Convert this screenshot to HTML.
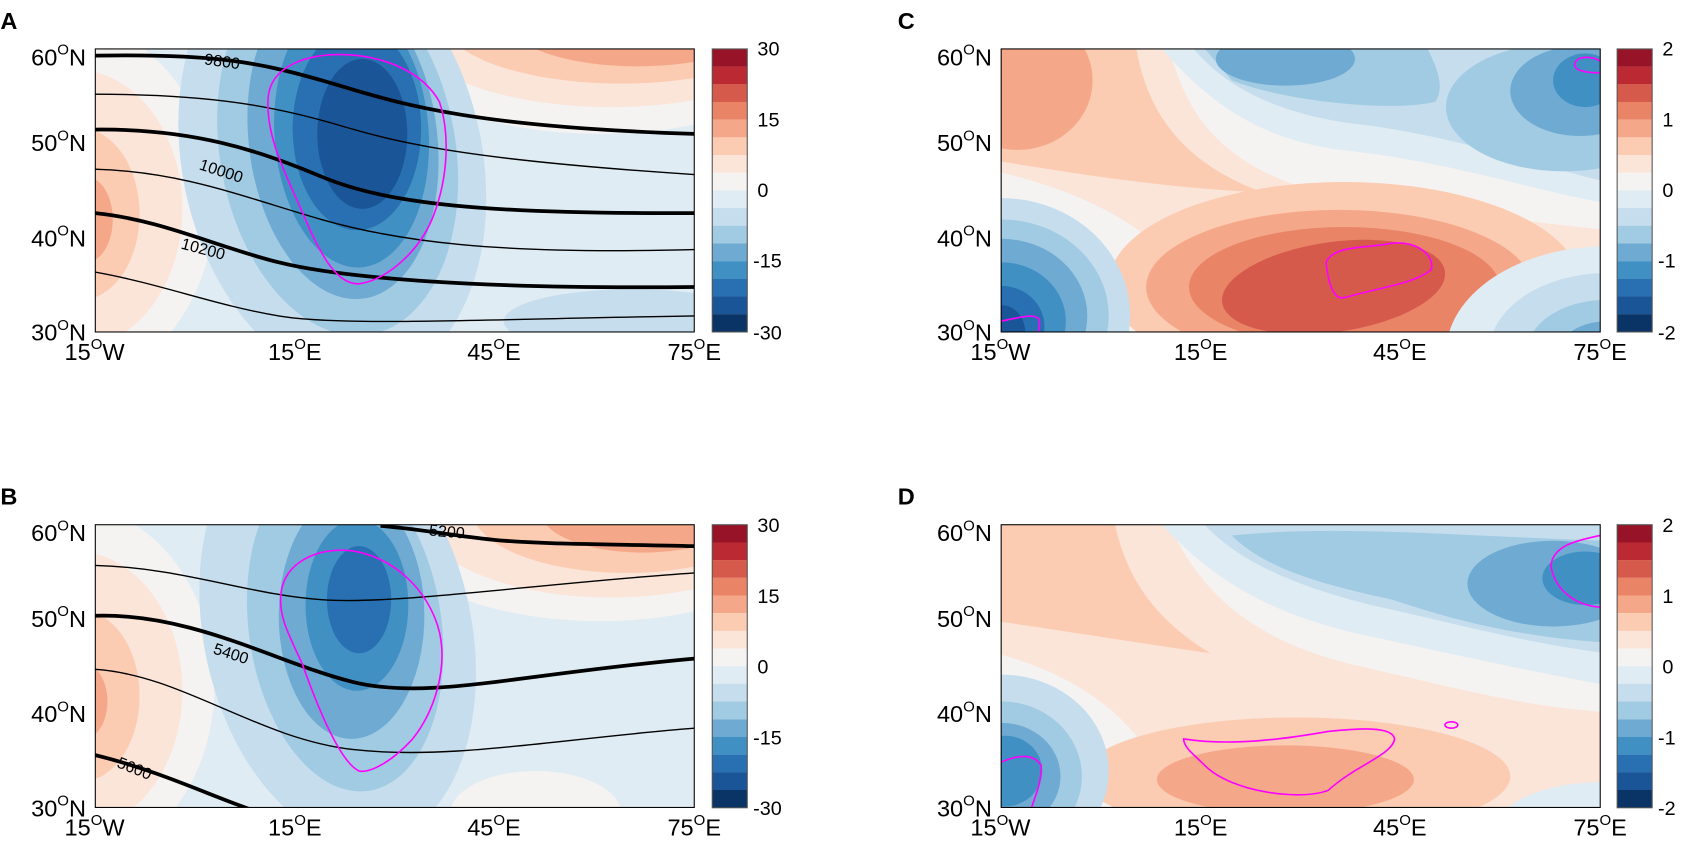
<!DOCTYPE html>
<html><head><meta charset="utf-8"><style>
html,body{margin:0;padding:0;background:#fff;}
svg{display:block;}
text{font-family:"Liberation Sans",Arial,sans-serif;fill:#000;}
</style></head><body>
<svg width="1683" height="846" viewBox="0 0 1571 790" xmlns="http://www.w3.org/2000/svg">
<defs>
<clipPath id="cA"><rect x="88.7" y="45.7" width="559.3" height="264.3"/></clipPath>
<clipPath id="cB"><rect x="88.7" y="490" width="559.3" height="264"/></clipPath>
<clipPath id="cC"><rect x="934.6" y="45.7" width="559.4" height="264.3"/></clipPath>
<clipPath id="cD"><rect x="934.6" y="490" width="559.4" height="264"/></clipPath>
<g id="cbar">
<rect y="0" height="16.6" width="32.7" fill="#971327"/>
<rect y="16.5" height="16.6" width="32.7" fill="#bb2a33"/>
<rect y="33" height="16.6" width="32.7" fill="#d55a4c"/>
<rect y="49.5" height="16.6" width="32.7" fill="#e98467"/>
<rect y="66" height="16.6" width="32.7" fill="#f5a889"/>
<rect y="82.6" height="16.6" width="32.7" fill="#fbcbb2"/>
<rect y="99.1" height="16.6" width="32.7" fill="#fbe4d8"/>
<rect y="115.6" height="16.6" width="32.7" fill="#f5f3f2"/>
<rect y="132.1" height="16.6" width="32.7" fill="#e0ecf3"/>
<rect y="148.6" height="16.6" width="32.7" fill="#c5dded"/>
<rect y="165.1" height="16.6" width="32.7" fill="#a1cbe2"/>
<rect y="181.7" height="16.6" width="32.7" fill="#6eaad2"/>
<rect y="198.2" height="16.6" width="32.7" fill="#4090c3"/>
<rect y="214.7" height="16.6" width="32.7" fill="#2870b1"/>
<rect y="231.2" height="16.6" width="32.7" fill="#1a5597"/>
<rect y="247.7" height="16.6" width="32.7" fill="#0a3465"/>
<rect y="0" height="264.3" width="32.7" fill="none" stroke="#555" stroke-width="1"/>
</g>
</defs>

<text x="0" y="27" font-size="22" font-weight="bold">A</text>
<text x="0" y="471" font-size="22" font-weight="bold">B</text>
<text x="838" y="27" font-size="22" font-weight="bold">C</text>
<text x="838" y="471" font-size="22" font-weight="bold">D</text>

<!-- ================= PANEL A ================= -->
<g clip-path="url(#cA)">
<rect x="88" y="45" width="562" height="266" fill="#e0ecf3"/>
<ellipse cx="60" cy="190" rx="140" ry="170" fill="#f5f3f2"/>
<ellipse cx="70" cy="195" rx="100" ry="130" fill="#fbe4d8"/>
<ellipse cx="75" cy="200" rx="55" ry="80" fill="#fbcbb2"/>
<ellipse cx="80" cy="205" rx="25" ry="40" fill="#f5a889"/>
<ellipse cx="560" cy="30" rx="210" ry="95" fill="#f5f3f2"/>
<ellipse cx="570" cy="25" rx="190" ry="75" fill="#fbe4d8"/>
<ellipse cx="580" cy="20" rx="165" ry="58" fill="#fbcbb2"/>
<ellipse cx="595" cy="20" rx="120" ry="42" fill="#f5a889"/>
<ellipse cx="310" cy="150" rx="140" ry="210" fill="#c5dded" transform="rotate(-12 310 150)"/>
<ellipse cx="315" cy="140" rx="110" ry="175" fill="#a1cbe2" transform="rotate(-10 315 140)"/>
<ellipse cx="320" cy="130" rx="88" ry="150" fill="#6eaad2" transform="rotate(-7 320 130)"/>
<ellipse cx="328" cy="125" rx="72" ry="125" fill="#4090c3" transform="rotate(-4 328 125)"/>
<ellipse cx="333" cy="120" rx="60" ry="95" fill="#2870b1"/>
<ellipse cx="338" cy="125" rx="42" ry="70" fill="#1a5597"/>
<ellipse cx="590" cy="300" rx="120" ry="30" fill="#c5dded"/>
<g fill="none" stroke="#000">
<path d="M88,52 C200,50 240,58 300,75 S420,118 648,125" stroke-width="3.5"/>
<path d="M88,88 C200,88 260,100 320,118 S450,150 648,163" stroke-width="1.3"/>
<path d="M88,121 C180,120 240,140 300,165 S450,200 648,199" stroke-width="3.5"/>
<path d="M88,158 C170,160 230,185 300,205 S460,238 648,233" stroke-width="1.3"/>
<path d="M88,199 C150,205 200,230 260,245 S450,270 648,268" stroke-width="3.5"/>
<path d="M88,254 C150,265 200,285 260,295 S450,298 648,295" stroke-width="1.3"/>
</g>
<path d="M250,92 C252,60 290,50 320,51 C360,52 395,68 410,95 C420,125 418,165 405,200 C392,235 360,262 335,265 C315,266 300,240 285,205 C268,165 248,130 250,92 Z" fill="none" stroke="#ff00ff" stroke-width="1.5"/>
</g>
<text x="190" y="60" font-size="15" transform="rotate(8 190 60)">9800</text>
<text x="185" y="158" font-size="15" transform="rotate(18 185 158)">10000</text>
<text x="168" y="232" font-size="15" transform="rotate(15 168 232)">10200</text>
<rect x="88.7" y="45.7" width="559.3" height="264.3" fill="none" stroke="#000" stroke-width="1"/>
<use href="#cbar" x="664.8" y="45.7"/>

<!-- ================= PANEL B ================= -->
<g clip-path="url(#cB)">
<rect x="88" y="489" width="562" height="266" fill="#e0ecf3"/>
<ellipse cx="60" cy="640" rx="140" ry="170" fill="#f5f3f2"/>
<ellipse cx="70" cy="645" rx="100" ry="130" fill="#fbe4d8"/>
<ellipse cx="75" cy="650" rx="55" ry="80" fill="#fbcbb2"/>
<ellipse cx="78" cy="655" rx="22" ry="35" fill="#f5a889"/>
<ellipse cx="560" cy="480" rx="210" ry="100" fill="#f5f3f2"/>
<ellipse cx="570" cy="478" rx="180" ry="80" fill="#fbe4d8"/>
<ellipse cx="585" cy="475" rx="145" ry="60" fill="#fbcbb2"/>
<ellipse cx="600" cy="478" rx="95" ry="38" fill="#f5a889"/>
<ellipse cx="500" cy="760" rx="80" ry="40" fill="#f5f3f2"/>
<ellipse cx="315" cy="590" rx="125" ry="200" fill="#c5dded" transform="rotate(-12 315 590)"/>
<ellipse cx="322" cy="585" rx="90" ry="155" fill="#a1cbe2" transform="rotate(-8 322 585)"/>
<ellipse cx="328" cy="575" rx="68" ry="115" fill="#6eaad2"/>
<ellipse cx="333" cy="565" rx="48" ry="80" fill="#4090c3"/>
<ellipse cx="335" cy="560" rx="30" ry="50" fill="#2870b1"/>
<g fill="none" stroke="#000">
<path d="M355,491 C400,495 420,500 460,504 S560,508 648,510" stroke-width="3.5"/>
<path d="M88,528 C170,530 230,555 300,560 S500,545 648,535" stroke-width="1.3"/>
<path d="M88,575 C180,572 260,620 330,637 S480,630 648,615" stroke-width="3.5"/>
<path d="M88,625 C170,630 240,690 330,700 S520,690 648,680" stroke-width="1.3"/>
<path d="M88,705 C150,720 200,745 240,758" stroke-width="3.5"/>
</g>
<path d="M262,555 C265,525 295,512 325,514 C365,518 400,550 410,590 C418,625 405,665 385,690 C365,712 345,722 335,720 C318,712 298,665 282,620 C268,590 260,575 262,555 Z" fill="none" stroke="#ff00ff" stroke-width="1.5"/>
</g>
<text x="400" y="500" font-size="15" transform="rotate(5 400 500)">5200</text>
<text x="198" y="610" font-size="15" transform="rotate(18 198 610)">5400</text>
<text x="108" y="716" font-size="15" transform="rotate(22 108 716)">5600</text>
<rect x="88.7" y="490" width="559.3" height="264" fill="none" stroke="#000" stroke-width="1"/>
<use href="#cbar" x="664.8" y="490"/>

<!-- ================= PANEL C ================= -->
<g clip-path="url(#cC)">
<rect x="930" y="40" width="570" height="275" fill="#f5f3f2"/>
<path d="M930,40 L1090,40 C1110,120 1150,160 1250,185 C1350,200 1420,205 1500,215 L1500,320 L1140,320 C1120,250 1060,190 930,160 Z" fill="#fbe4d8"/>
<path d="M930,40 L1060,40 C1070,110 1110,155 1180,180 C1100,175 1050,170 930,150 Z" fill="#fbcbb2"/>
<ellipse cx="950" cy="75" rx="70" ry="65" fill="#f5a889"/>
<ellipse cx="1255" cy="265" rx="220" ry="95" fill="#fbcbb2"/>
<ellipse cx="1250" cy="268" rx="180" ry="72" fill="#f5a889"/>
<ellipse cx="1255" cy="268" rx="145" ry="56" fill="#e98467"/>
<ellipse cx="1245" cy="268" rx="105" ry="42" fill="#d55a4c" transform="rotate(-8 1245 268)"/>
<path d="M1080,40 L1500,40 L1500,190 C1420,175 1350,150 1250,140 C1180,130 1130,100 1080,40 Z" fill="#e0ecf3"/>
<path d="M1110,40 L1500,40 L1500,170 C1420,150 1350,125 1260,115 C1190,105 1140,80 1110,40 Z" fill="#c5dded"/>
<path d="M1120,40 L1330,40 C1340,60 1350,80 1340,95 C1300,105 1200,95 1150,75 Z" fill="#a1cbe2"/>
<ellipse cx="1460" cy="100" rx="110" ry="60" fill="#a1cbe2"/>
<ellipse cx="1475" cy="85" rx="65" ry="42" fill="#6eaad2"/>
<ellipse cx="1480" cy="75" rx="30" ry="25" fill="#4090c3"/>
<ellipse cx="1200" cy="55" rx="65" ry="25" fill="#6eaad2"/>
<ellipse cx="935" cy="295" rx="120" ry="110" fill="#c5dded"/>
<ellipse cx="935" cy="295" rx="100" ry="90" fill="#a1cbe2"/>
<ellipse cx="935" cy="295" rx="80" ry="72" fill="#6eaad2"/>
<ellipse cx="935" cy="300" rx="60" ry="55" fill="#4090c3"/>
<ellipse cx="935" cy="305" rx="40" ry="38" fill="#2870b1"/>
<ellipse cx="935" cy="310" rx="22" ry="25" fill="#1a5597"/>
<ellipse cx="1500" cy="330" rx="150" ry="100" fill="#e0ecf3"/>
<ellipse cx="1500" cy="330" rx="110" ry="75" fill="#c5dded"/>
<ellipse cx="1500" cy="330" rx="75" ry="50" fill="#a1cbe2"/>
<ellipse cx="1500" cy="330" rx="45" ry="30" fill="#6eaad2"/>
<g fill="none" stroke="#ff00ff" stroke-width="1.5">
<path d="M1238,245 C1245,228 1280,232 1300,227 C1325,225 1340,240 1336,252 C1320,265 1290,268 1255,278 C1245,280 1240,265 1238,245 Z"/>
<path d="M1494,68 C1480,68 1470,66 1470,60 C1472,52 1485,52 1494,57"/>
<path d="M934,300 C950,297 965,292 970,298 C972,310 966,315 963,320"/>
</g>
</g>
<rect x="934.6" y="45.7" width="559.4" height="264.3" fill="none" stroke="#000" stroke-width="1"/>
<use href="#cbar" x="1509.8" y="45.7"/>

<!-- ================= PANEL D ================= -->
<g clip-path="url(#cD)">
<rect x="930" y="485" width="570" height="275" fill="#f5f3f2"/>
<path d="M930,485 L1090,485 C1120,560 1180,600 1260,620 C1350,640 1420,660 1500,665 L1500,760 L1100,760 C1080,700 1040,640 930,610 Z" fill="#fbe4d8"/>
<path d="M930,485 L1040,485 C1050,540 1080,580 1130,610 C1060,600 1000,590 930,580 Z" fill="#fbcbb2"/>
<ellipse cx="1210" cy="725" rx="200" ry="55" fill="#fbcbb2"/>
<ellipse cx="1200" cy="728" rx="120" ry="32" fill="#f5a889"/>
<path d="M1080,485 L1500,485 L1500,640 C1420,625 1350,610 1260,590 C1180,570 1130,540 1080,485 Z" fill="#e0ecf3"/>
<path d="M1120,485 L1500,485 L1500,610 C1420,600 1350,580 1280,565 C1200,545 1150,520 1120,485 Z" fill="#c5dded"/>
<path d="M1150,500 C1250,490 1350,500 1500,505 L1500,600 C1420,595 1360,580 1300,560 C1230,545 1180,530 1150,500 Z" fill="#a1cbe2"/>
<ellipse cx="1450" cy="545" rx="80" ry="40" fill="#6eaad2"/>
<ellipse cx="1480" cy="540" rx="40" ry="25" fill="#4090c3"/>
<ellipse cx="935" cy="720" rx="100" ry="90" fill="#c5dded"/>
<ellipse cx="935" cy="725" rx="75" ry="70" fill="#a1cbe2"/>
<ellipse cx="935" cy="725" rx="55" ry="50" fill="#6eaad2"/>
<ellipse cx="938" cy="720" rx="35" ry="33" fill="#4090c3"/>
<ellipse cx="1500" cy="770" rx="100" ry="40" fill="#e0ecf3"/>
<g fill="none" stroke="#ff00ff" stroke-width="1.5">
<path d="M1105,690 C1150,697 1200,690 1240,683 C1270,680 1300,678 1302,690 C1300,705 1265,715 1240,738 C1215,748 1150,740 1125,715 C1115,705 1105,698 1105,690 Z"/>
<ellipse cx="1355" cy="677" rx="6" ry="3"/>
<path d="M1494,500 C1470,505 1450,510 1448,528 C1450,545 1465,565 1494,567"/>
<path d="M934,712 C950,705 965,703 972,715 C972,735 965,745 962,758"/>
</g>
</g>
<rect x="934.6" y="490" width="559.4" height="264" fill="none" stroke="#000" stroke-width="1"/>
<use href="#cbar" x="1509.8" y="490"/>

<g font-size="18.5">
<text x="707" y="52">30</text><text x="707" y="118">15</text><text x="707" y="184">0</text><text x="703" y="250">-15</text><text x="703" y="317">-30</text>
<text x="707" y="497">30</text><text x="707" y="563">15</text><text x="707" y="629">0</text><text x="703" y="695">-15</text><text x="703" y="761">-30</text>
<text x="1552" y="52">2</text><text x="1552" y="118">1</text><text x="1552" y="184">0</text><text x="1548" y="250">-1</text><text x="1548" y="317">-2</text>
<text x="1552" y="497">2</text><text x="1552" y="563">1</text><text x="1552" y="629">0</text><text x="1548" y="695">-1</text><text x="1548" y="761">-2</text>
</g>

<g font-size="22">
<g id="latL">
<text x="80" y="61" text-anchor="end">60<tspan font-size="14" dy="-10">O</tspan><tspan dy="10">N</tspan></text>
<text x="80" y="141" text-anchor="end">50<tspan font-size="14" dy="-10">O</tspan><tspan dy="10">N</tspan></text>
<text x="80" y="230" text-anchor="end">40<tspan font-size="14" dy="-10">O</tspan><tspan dy="10">N</tspan></text>
<text x="80" y="318" text-anchor="end">30<tspan font-size="14" dy="-10">O</tspan><tspan dy="10">N</tspan></text>
<text x="88" y="336" text-anchor="middle">15<tspan font-size="14" dy="-10">O</tspan><tspan dy="10">W</tspan></text>
<text x="275" y="336" text-anchor="middle">15<tspan font-size="14" dy="-10">O</tspan><tspan dy="10">E</tspan></text>
<text x="461" y="336" text-anchor="middle">45<tspan font-size="14" dy="-10">O</tspan><tspan dy="10">E</tspan></text>
<text x="648" y="336" text-anchor="middle">75<tspan font-size="14" dy="-10">O</tspan><tspan dy="10">E</tspan></text>
</g>
<use href="#latL" x="0" y="444.3"/>
<use href="#latL" x="845.9" y="0"/>
<use href="#latL" x="845.9" y="444.3"/>
</g>
</svg>
</body></html>
